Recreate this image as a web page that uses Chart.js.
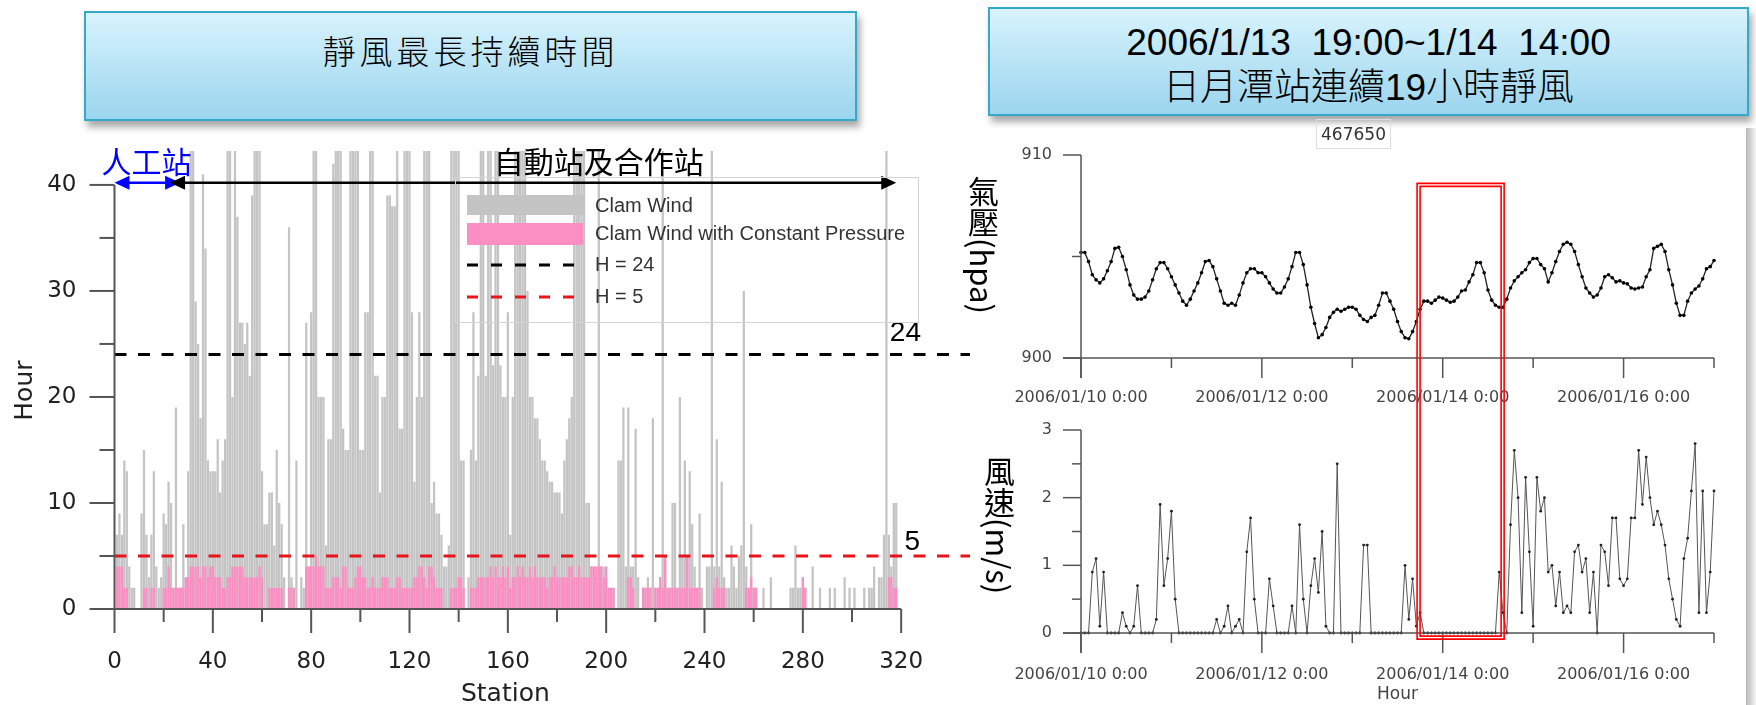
<!DOCTYPE html>
<html><head><meta charset="utf-8">
<script src="https://cdn.jsdelivr.net/npm/chart.js@4/dist/chart.umd.min.js"></script>
<style>
html,body{margin:0;padding:0;background:#fff;}
body{width:1756px;height:705px;position:relative;overflow:hidden;font-family:"Liberation Sans",Arial,sans-serif;}
.box{position:absolute;box-sizing:border-box;border:2px solid #36a8c8;background:linear-gradient(#d8f3fd,#9bd5ee);box-shadow:3px 6px 7px rgba(0,0,0,0.35);text-align:center;color:#000;}
.cv{position:absolute;}
.vt{position:absolute;writing-mode:vertical-rl;font-family:"Noto Sans CJK TC",sans-serif;font-size:31px;line-height:31px;color:#000;white-space:nowrap;}
</style></head><body>

<div class="box" style="left:84px;top:11px;width:773px;height:110px;">
  <div style="position:absolute;left:0;right:0;top:13px;font:300 33px 'Noto Sans CJK TC',sans-serif;letter-spacing:4px;">靜風最長持續時間</div>
</div>
<div class="box" style="left:988px;top:7px;width:761px;height:109px;">
  <div style="position:absolute;left:0;right:0;top:13px;font:37px 'Liberation Sans',sans-serif;white-space:pre;line-height:42px;">2006/1/13  19:00~1/14  14:00</div>
  <div style="position:absolute;left:0;right:0;top:58px;font:300 37px 'Liberation Sans','Noto Sans CJK TC',sans-serif;line-height:42px;">日月潭站連續19小時靜風</div>
</div>

<canvas id="c1" class="cv" width="975" height="575" style="left:0;top:130px;"></canvas>
<canvas id="c2" class="cv" width="776" height="305" style="left:980px;top:110px;"></canvas>
<canvas id="c3" class="cv" width="776" height="290" style="left:980px;top:415px;"></canvas>

<div style="position:absolute;left:1316px;top:119px;width:73px;height:28px;border:1px solid #ddd;font:17px 'DejaVu Sans',sans-serif;color:#333;line-height:28px;text-align:center;">467650</div>
<div class="vt" style="left:968px;top:176px;">氣壓(hpa)</div>
<div class="vt" style="left:984px;top:456px;">風速(m/s)</div>
<div style="position:absolute;left:1746px;top:128px;width:10px;height:577px;background:linear-gradient(to right,#b8b8b8,#f4f4f4);"></div>

<script>
// ---------- Left chart data: longest calm-wind duration per station ----------
const calmWind = [
  7,9,7,14,13,4,2,2,0,0,
  9,15,7,3,7,13,4,2,3,9,
  8,12,10,2,19,2,2,8,3,13,
  48,45,29,25,18,41,34,14,13,13,
  13,16,11,14,16,48,48,20,45,37,
  27,27,25,27,22,39,48,48,48,13,
  8,8,11,11,6,15,10,8,3,0,
  36,3,2,14,0,3,2,27,4,28,
  48,48,20,20,20,6,16,16,42,48,
  48,48,17,15,15,48,48,48,48,15,
  15,28,28,48,48,22,22,11,20,20,
  39,39,38,38,48,17,17,48,48,48,
  28,12,20,28,20,48,48,48,10,12,
  9,9,7,4,4,6,48,48,48,48,
  14,14,0,3,15,28,14,22,48,48,
  22,48,48,23,48,48,23,20,20,28,
  7,20,48,48,48,48,48,30,20,20,
  18,18,16,14,14,13,12,12,11,11,
  11,9,14,16,18,20,48,48,48,48,
  48,10,10,4,4,3,48,4,4,3,
  2,2,2,0,14,14,19,4,19,4,
  4,17,3,0,2,2,3,2,18,2,
  2,3,48,5,2,2,10,10,2,20,
  5,14,5,13,8,4,2,9,2,0,
  4,4,48,4,16,4,12,3,2,2,
  6,4,2,5,6,30,4,2,8,2,
  2,0,0,2,0,0,3,0,0,0,
  0,0,0,0,2,2,6,2,2,3,
  2,0,0,4,0,0,2,0,0,0,
  2,0,2,0,0,0,3,0,2,0,
  2,0,0,0,2,0,2,2,4,0,
  3,3,7,48,7,4,10,10
];
const calmConstPressure = [
  4,4,4,2,2,0,0,0,0,0,
  0,2,2,0,2,2,0,0,0,2,
  2,4,2,2,2,2,2,2,3,3,
  4,4,4,4,3,4,4,3,4,4,
  3,3,3,2,2,3,3,4,4,4,
  4,4,3,3,3,3,3,3,4,3,
  0,0,2,2,2,2,2,2,0,0,
  2,2,2,0,0,0,0,4,4,4,
  4,5,4,4,4,2,2,2,3,3,
  3,2,4,4,2,2,2,3,4,4,
  3,3,2,2,3,2,2,2,3,3,
  3,2,2,2,3,3,2,2,2,2,
  2,3,3,4,4,3,2,4,4,3,
  2,2,2,0,0,0,2,2,2,3,
  3,2,0,0,2,2,2,3,3,3,
  3,3,4,3,4,3,3,4,3,4,
  2,3,3,4,3,4,3,3,4,3,
  4,3,3,3,3,2,3,3,4,3,
  3,3,3,3,4,4,3,3,4,3,
  3,3,3,4,4,4,4,4,3,4,
  2,2,2,0,0,0,0,0,3,3,
  2,0,0,0,2,2,2,2,0,2,
  2,3,2,5,2,2,2,2,2,2,
  2,2,5,2,2,2,2,2,0,0,
  0,0,0,2,3,2,2,2,0,0,
  0,0,0,0,0,0,2,2,3,2,
  2,0,0,0,0,0,0,0,0,0,
  0,0,0,0,0,0,0,0,0,3,
  2,0,0,0,0,0,0,0,0,0,
  0,0,0,0,0,0,0,0,0,0,
  0,0,0,0,0,0,0,0,0,0,
  0,0,0,0,3,3,2,2
];
const stations = calmWind.map((_, i) => i + 1);
const hourTicks = [0, 10, 20, 30, 40];
const stationTicks = [0, 40, 80, 120, 160, 200, 240, 280, 320];
const thresholds = [24, 5];
const thresholdColors = ['#000000', '#e8141c'];
const legendLabels = ['Clam Wind', 'Clam Wind with Constant Pressure', 'H = 24', 'H = 5'];
const manualStationRange = [0, 26.7];   // 人工站
const autoStationRange = [22.6, 318];   // 自動站及合作站

// ---------- Right charts data: station 467650, hourly from 2006/01/10 0:00 ----------
const pressure = [
  905.2,905.2,904.75,904.1,903.85,903.7,903.9,904.3,904.75,905.4,
  905.45,905.0,904.35,903.6,903.1,902.9,902.9,903.0,903.3,903.85,
  904.4,904.7,904.7,904.4,904.0,903.6,903.2,902.8,902.6,902.9,
  903.3,903.7,904.2,904.75,904.8,904.5,903.9,903.3,902.7,902.6,
  902.7,902.6,903.1,903.7,904.2,904.4,904.4,904.2,904.2,904.0,
  903.7,903.4,903.2,903.2,903.5,903.9,904.5,905.2,905.2,904.6,
  903.6,902.5,901.7,901.0,901.15,901.5,902.0,902.25,902.4,902.3,
  902.4,902.5,902.5,902.4,902.1,901.9,901.8,902.0,902.1,902.6,
  903.2,903.2,902.8,902.4,901.8,901.3,901.0,900.95,901.3,901.8,
  902.4,902.8,902.8,902.7,902.85,903.0,902.95,902.85,902.75,902.8,
  903.0,903.3,903.35,903.75,904.1,904.7,904.7,904.2,903.35,902.85,
  902.6,902.5,902.5,902.9,903.45,903.8,904.0,904.2,904.35,904.7,
  904.9,904.9,904.6,904.4,903.75,904.2,904.75,905.25,905.6,905.7,
  905.6,905.25,904.6,904.0,903.45,903.2,903.0,903.1,903.45,904.0,
  904.1,903.95,903.75,903.8,903.7,903.65,903.45,903.4,903.45,903.5,
  904.0,904.35,905.4,905.5,905.6,905.25,904.35,903.6,902.7,902.1,
  902.1,902.8,903.2,903.4,903.55,903.9,904.4,904.5,904.8
];
const windSpeed = [
  0,0,0,0.9,1.1,0.1,0.9,0,0,0,
  0,0.3,0.1,0,0.1,0.7,0,0,0,0,
  0.2,1.9,0.7,1.1,1.8,0.5,0,0,0,0,
  0,0,0,0,0,0,0.2,0,0.1,0.4,
  0,0.1,0.2,0,1.2,1.7,0.5,0,0,0,
  0.8,0.4,0,0,0,0,0.4,0,1.6,0.5,
  0,0.7,1.1,0.6,1.5,0.1,0,0,2.5,0,
  0,0,0,0,0,1.3,1.3,0,0,0,
  0,0,0,0,0,0,1.0,0.2,0.8,0.1,
  0.3,0,0,0,0,0,0,0,0,0,
  0,0,0,0,0,0,0,0,0,0,
  0,0.9,0.3,0,1.6,2.7,2.0,0.3,2.3,1.2,
  0.1,2.3,1.8,2.0,0.9,1.0,0.4,0.9,0.3,0.4,
  0.3,1.2,1.3,0.9,1.1,0.3,0.9,0,1.3,1.2,
  0.7,1.7,1.7,0.8,0.7,0.8,1.7,1.7,2.7,1.9,
  2.6,2.0,1.6,1.8,1.6,1.3,0.8,0.5,0.2,0.1,
  1.1,1.4,2.1,2.8,0.3,2.1,0.3,0.9,2.1
];
const hours = pressure.map((_, i) => i);
const dayTicks = [0, 24, 48, 72, 96, 120, 144, 168];
const dateTickLabels = ['2006/01/10 0:00', '', '2006/01/12 0:00', '', '2006/01/14 0:00', '', '2006/01/16 0:00', ''];
const pressureTicks = [900, 905, 910];
const pressureTickLabels = ['900', '', '910'];
const windTicks = [0, 0.5, 1, 1.5, 2, 2.5, 3];
const windTickLabels = ['0', '', '1', '', '2', '', '3'];
const calmPeriod = [89.2, 112.3];   // hours: 2006/1/13 19:00 ~ 1/14 14:00 highlight
const calmBoxTop = 908.6;           // hPa
const calmBoxBottom = -0.09;        // m/s

// ---------- helpers ----------
function arrow(ctx, x1, x2, y, color) {
  const L = 15, W = 7;
  ctx.strokeStyle = color; ctx.fillStyle = color; ctx.lineWidth = 2.5;
  ctx.beginPath(); ctx.moveTo(x1 + 4, y); ctx.lineTo(x2 - 4, y); ctx.stroke();
  ctx.beginPath(); ctx.moveTo(x1, y); ctx.lineTo(x1 + L, y - W); ctx.lineTo(x1 + L, y + W); ctx.closePath(); ctx.fill();
  ctx.beginPath(); ctx.moveTo(x2, y); ctx.lineTo(x2 - L, y - W); ctx.lineTo(x2 - L, y + W); ctx.closePath(); ctx.fill();
}

const leftDecor = {
  id: 'leftDecor',
  afterDatasetsDraw(chart) {
    const {ctx, chartArea: a, scales: {x, y}} = chart;
    ctx.save();
    thresholds.forEach((v, i) => {
      const py = y.getPixelForValue(v);
      ctx.strokeStyle = thresholdColors[i]; ctx.lineWidth = 3; ctx.setLineDash([12, 11.5]);
      ctx.beginPath(); ctx.moveTo(a.left, py); ctx.lineTo(a.right, py); ctx.stroke();
    });
    ctx.setLineDash([]);
    ctx.fillStyle = '#000'; ctx.font = '28px "Liberation Sans"'; ctx.textAlign = 'right'; ctx.textBaseline = 'alphabetic';
    ctx.fillText(String(thresholds[0]), a.right - 49, y.getPixelForValue(thresholds[0]) - 14);
    ctx.fillText(String(thresholds[1]), a.right - 50, y.getPixelForValue(thresholds[1]) - 6);

    const x0 = x.getPixelForValue(0), y0 = y.getPixelForValue(0);
    ctx.strokeStyle = '#555'; ctx.lineWidth = 2;
    ctx.beginPath(); ctx.moveTo(x0, y.getPixelForValue(40)); ctx.lineTo(x0, y0 + 24); ctx.stroke();
    ctx.beginPath(); ctx.moveTo(x0 - 25, y0); ctx.lineTo(x.getPixelForValue(320), y0); ctx.stroke();
    for (let v = 5; v <= 40; v += 5) {
      const py = y.getPixelForValue(v), len = v % 10 === 0 ? 25 : 15;
      ctx.beginPath(); ctx.moveTo(x0 - len, py); ctx.lineTo(x0, py); ctx.stroke();
    }
    for (let v = 20; v <= 320; v += 20) {
      const px = x.getPixelForValue(v), len = v % 40 === 0 ? 24 : 13;
      ctx.beginPath(); ctx.moveTo(px, y0); ctx.lineTo(px, y0 + len); ctx.stroke();
    }
    ctx.fillStyle = '#222'; ctx.font = '23px "DejaVu Sans"';
    ctx.textAlign = 'right'; ctx.textBaseline = 'middle';
    hourTicks.forEach(v => ctx.fillText(String(v), x0 - 38, y.getPixelForValue(v)));
    ctx.textAlign = 'center';
    stationTicks.forEach(v => ctx.fillText(String(v), x.getPixelForValue(v), y0 + 53));
    ctx.font = '25px "DejaVu Sans"';
    ctx.fillText('Station', x.getPixelForValue(159), y0 + 85);
    ctx.save(); ctx.translate(25, y.getPixelForValue(20.6)); ctx.rotate(-Math.PI / 2);
    ctx.fillText('Hour', 0, 0); ctx.restore();

    const ay = y.getPixelForValue(40.2);
    arrow(ctx, x.getPixelForValue(manualStationRange[0]), x.getPixelForValue(manualStationRange[1]), ay, '#0000ff');
    arrow(ctx, x.getPixelForValue(autoStationRange[0]), x.getPixelForValue(autoStationRange[1]), ay, '#000');
    ctx.font = '30px "Noto Sans CJK TC"'; ctx.textAlign = 'center'; ctx.textBaseline = 'middle';
    ctx.fillStyle = '#0000ff'; ctx.fillText('人工站', x.getPixelForValue(13), ay - 21);
    ctx.fillStyle = '#000'; ctx.fillText('自動站及合作站', x.getPixelForValue(197), ay - 21);

    ctx.strokeStyle = '#d4d4d4'; ctx.lineWidth = 1; ctx.strokeRect(455.5, 47.5, 463, 145);
    ctx.fillStyle = '#c4c4c4'; ctx.fillRect(467, 65, 116, 20);
    ctx.fillStyle = '#fb8ec2'; ctx.fillRect(467, 93, 116, 22);
    [[135, thresholdColors[0]], [167, thresholdColors[1]]].forEach(([ly, c]) => {
      ctx.strokeStyle = c; ctx.lineWidth = 3; ctx.setLineDash([11, 13]);
      ctx.beginPath(); ctx.moveTo(467, ly); ctx.lineTo(583, ly); ctx.stroke();
    });
    ctx.setLineDash([]);
    ctx.fillStyle = '#333'; ctx.font = '20px "Liberation Sans"'; ctx.textAlign = 'left'; ctx.textBaseline = 'middle';
    [76, 104, 135, 167].forEach((ly, i) => ctx.fillText(legendLabels[i], 595, ly));
    ctx.restore();
  }
};

new Chart(document.getElementById('c1'), {
  type: 'bar',
  data: {
    labels: stations,
    datasets: [
      {label: legendLabels[1], data: calmConstPressure, backgroundColor: '#fb8ec2', order: 0, grouped: false, barPercentage: 0.92, categoryPercentage: 1},
      {label: legendLabels[0], data: calmWind, backgroundColor: '#c4c4c4', order: 1, grouped: false, barPercentage: 0.92, categoryPercentage: 1}
    ]
  },
  options: {
    responsive: false, animation: false,
    layout: {padding: {left: 114.5, right: 5, top: 21, bottom: 96}},
    plugins: {legend: {display: false}, tooltip: {enabled: false}},
    scales: {
      x: {type: 'linear', min: 0, max: 348, offset: false, display: false},
      y: {min: 0, max: 43.2, display: false}
    }
  },
  plugins: [leftDecor]
});

function timeAxes(yTicks, yLabels, labelDy, part) {
  return {
    id: 'timeAxes' + part,
    afterDatasetsDraw(chart) {
      const {ctx, scales: {x, y}} = chart;
      ctx.save();
      const x0 = x.getPixelForValue(0), yb = y.getPixelForValue(y.min);
      ctx.strokeStyle = '#555'; ctx.lineWidth = 1.5;
      ctx.beginPath(); ctx.moveTo(x0, y.getPixelForValue(y.max)); ctx.lineTo(x0, yb + 20); ctx.stroke();
      ctx.beginPath(); ctx.moveTo(x0 - 18, yb); ctx.lineTo(x.getPixelForValue(168), yb); ctx.stroke();
      yTicks.forEach((v, i) => {
        const py = y.getPixelForValue(v), len = yLabels[i] ? 18 : 9;
        ctx.beginPath(); ctx.moveTo(x0 - len, py); ctx.lineTo(x0, py); ctx.stroke();
      });
      dayTicks.forEach((h, i) => {
        const px = x.getPixelForValue(h), len = dateTickLabels[i] ? 20 : 10;
        ctx.beginPath(); ctx.moveTo(px, yb); ctx.lineTo(px, yb + len); ctx.stroke();
      });
      ctx.fillStyle = '#444'; ctx.font = '16px "DejaVu Sans"';
      ctx.textAlign = 'right'; ctx.textBaseline = 'middle';
      yTicks.forEach((v, i) => { if (yLabels[i]) ctx.fillText(yLabels[i], x0 - 29, y.getPixelForValue(v)); });
      ctx.textAlign = 'center';
      dayTicks.forEach((h, i) => { if (dateTickLabels[i]) ctx.fillText(dateTickLabels[i], x.getPixelForValue(h), yb + labelDy); });
      if (part === 'b') { ctx.font = '17px "DejaVu Sans"'; ctx.fillText('Hour', x.getPixelForValue(84), yb + 62); }
      const x1 = x.getPixelForValue(calmPeriod[0]), x2 = x.getPixelForValue(calmPeriod[1]);
      ctx.strokeStyle = '#ff0000'; ctx.lineWidth = 1.6;
      [0, 3].forEach(d => {
        ctx.beginPath();
        if (part === 't') {
          const yt = y.getPixelForValue(calmBoxTop);
          ctx.moveTo(x1 + d, chart.height); ctx.lineTo(x1 + d, yt + d); ctx.lineTo(x2 - d, yt + d); ctx.lineTo(x2 - d, chart.height);
        } else {
          const ybx = y.getPixelForValue(calmBoxBottom);
          ctx.moveTo(x1 + d, 0); ctx.lineTo(x1 + d, ybx - d); ctx.lineTo(x2 - d, ybx - d); ctx.lineTo(x2 - d, 0);
        }
        ctx.stroke();
      });
      ctx.restore();
    }
  };
}

new Chart(document.getElementById('c2'), {
  type: 'line',
  data: {labels: hours, datasets: [{data: pressure, borderColor: '#222', borderWidth: 1.3, pointRadius: 1.8, pointBackgroundColor: '#000', pointBorderWidth: 0, tension: 0, clip: false}]},
  options: {
    responsive: false, animation: false,
    layout: {padding: {left: 101, right: 42, top: 45, bottom: 57}},
    plugins: {legend: {display: false}, tooltip: {enabled: false}},
    scales: {x: {type: 'linear', min: 0, max: 168, display: false}, y: {min: 900, max: 910, display: false}}
  },
  plugins: [timeAxes(pressureTicks, pressureTickLabels, 40, 't')]
});

new Chart(document.getElementById('c3'), {
  type: 'line',
  data: {labels: hours, datasets: [{data: windSpeed, borderColor: '#555', borderWidth: 1, pointRadius: 1.4, pointBackgroundColor: '#222', pointBorderWidth: 0, tension: 0, clip: false}]},
  options: {
    responsive: false, animation: false,
    layout: {padding: {left: 101, right: 42, top: 15, bottom: 72}},
    plugins: {legend: {display: false}, tooltip: {enabled: false}},
    scales: {x: {type: 'linear', min: 0, max: 168, display: false}, y: {min: 0, max: 3, display: false}}
  },
  plugins: [timeAxes(windTicks, windTickLabels, 42, 'b')]
});
</script>
</body></html>
